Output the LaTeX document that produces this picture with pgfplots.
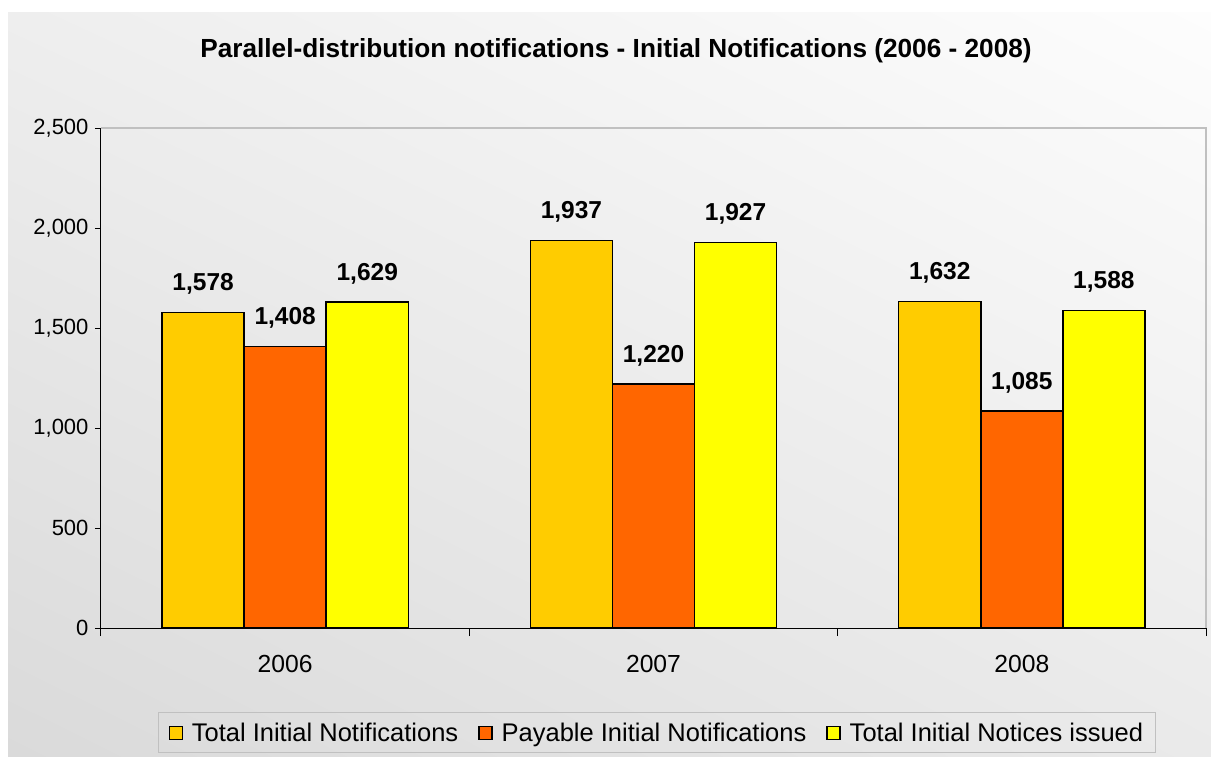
\documentclass[border=0pt]{standalone}
\usepackage{fontspec}
\setmainfont{Liberation Sans}
\usepackage{pgfplots}
\pgfplotsset{compat=1.18}
\usetikzlibrary{shadings}
\definecolor{cTot}{RGB}{255,204,0}
\definecolor{cPay}{RGB}{255,102,0}
\definecolor{cIss}{RGB}{255,255,0}
\definecolor{bgUL}{RGB}{238,238,238}
\definecolor{bgUR}{RGB}{253,253,253}
\definecolor{bgLL}{RGB}{218,218,218}
\definecolor{bgLR}{RGB}{234,234,234}
\definecolor{frameGray}{RGB}{192,192,192}
\begin{document}
\begin{tikzpicture}
\useasboundingbox (0,0) rectangle (1211pt,-756pt);
\shade[upper left=bgUL, upper right=bgUR, lower left=bgLL, lower right=bgLR] (8pt,-12pt) rectangle (1211pt,-756pt);
\node[font=\bfseries\fontsize{26.2}{30}\selectfont, anchor=base, inner sep=0pt] at (616pt,-57pt) {Parallel-distribution notifications - Initial Notifications (2006 - 2008)};
\begin{axis}[
  at={(101pt,-628pt)}, anchor=south west,
  scale only axis, width=1105pt, height=500pt,
  xmin=-0.5, xmax=2.5, ymin=0, ymax=2500,
  axis x line*=bottom, axis y line*=left,
  axis line style={black, line width=1pt},
  ytick={0,500,1000,1500,2000,2500},
  xtick={0,1,2}, xticklabels={2006,2007,2008},
  minor xtick={-0.5,0.5,1.5,2.5},
  major x tick style={draw=none},
  minor x tick style={black, line width=1pt},
  y tick style={black, line width=1pt},
  tick align=outside,
  major tick length=6pt, minor tick length=8pt,
  /pgf/number format/.cd, 1000 sep={,}, assume math mode=true, /pgfplots/.cd,
  yticklabel style={font=\fontsize{22}{26}\selectfont, xshift=-3pt},
  xticklabel style={font=\fontsize{24.7}{29}\selectfont, yshift=-18pt},
  ybar, bar width=0.2228,
  nodes near coords,
  every node near coord/.append style={font=\bfseries\fontsize{24.5}{29}\selectfont, yshift=14pt},
  legend style={at={(0.503,-0.209)}, anchor=center, draw=frameGray, fill=none,
    font=\fontsize{25.5}{30}\selectfont, inner xsep=10pt, inner ysep=8pt,
    /tikz/every even column/.append style={column sep=18pt}},
  legend columns=3,
  legend image code/.code={\draw[#1, draw=black, line width=1.2pt] (0pt,-7pt) rectangle (13pt,6pt); \path (20pt,0pt);},
  after end axis/.code={\draw[frameGray, line width=1.2pt] (rel axis cs:0,1) -- (rel axis cs:1,1) -- (rel axis cs:1,0);},
]
\addplot[fill=cTot, draw=black, line width=1.5pt, bar shift=-0.2228] coordinates {(0,1578) (1,1937) (2,1632)};
\addplot[fill=cPay, draw=black, line width=1.5pt, bar shift=0] coordinates {(0,1408) (1,1220) (2,1085)};
\addplot[fill=cIss, draw=black, line width=1.5pt, bar shift=0.2228] coordinates {(0,1629) (1,1927) (2,1588)};
\legend{Total Initial Notifications, Payable Initial Notifications, Total Initial Notices issued}
\end{axis}
\end{tikzpicture}
\end{document}
